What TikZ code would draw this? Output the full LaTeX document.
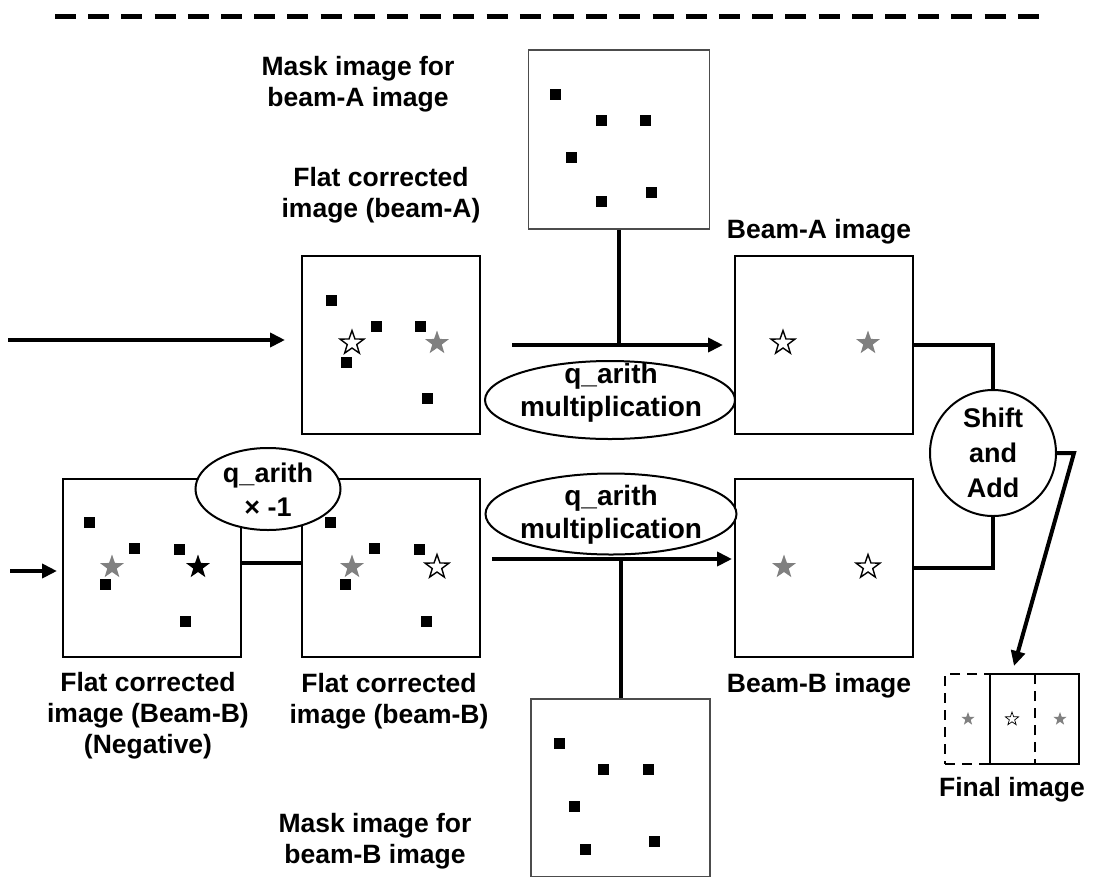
\documentclass[tikz,border=0pt]{standalone}
\usepackage{fontspec}
\setmainfont{Liberation Sans}
\usetikzlibrary{shapes.geometric,arrows.meta,calc}
\tikzset{
 lbl/.style={font=\bfseries\fontsize{26.5}{31}\selectfont, align=center, inner sep=0pt},
 imgbox/.style={draw=black, line width=2pt, minimum width=178pt, minimum height=178pt, inner sep=0pt},
 maskbox/.style={draw=black!70, line width=1.6pt, minimum width=181pt, minimum height=179pt, inner sep=0pt},
 sqr/.style={fill=black, minimum size=11pt, inner sep=0pt},
 bigstar/.style={star, star points=5, star point ratio=2.5, minimum size=25pt, inner sep=0pt},
 hstar/.style={bigstar, draw=black, fill=white, line width=1.4pt},
 gstar/.style={bigstar, fill=black!50},
 kstar/.style={bigstar, fill=black},
 smallstar/.style={star, star points=5, star point ratio=2.5, minimum size=14pt, inner sep=0pt},
 shstar/.style={smallstar, draw=black, fill=white, line width=0.7pt},
 sgstar/.style={smallstar, fill=black!50},
 conn/.style={line width=4pt},
 arr/.style={conn, -{Triangle[length=15pt,width=14pt]}},
 oval/.style={ellipse, draw=black, fill=white, line width=2pt, inner sep=0pt},
 ovaltxt/.style={align=center, inner sep=0pt, font=\bfseries\fontsize{28}{33}\selectfont},
 rnd/.style={circle, draw=black, fill=white, line width=2pt, inner sep=0pt, align=center,
   minimum size=126pt, font=\bfseries\fontsize{27}{35}\selectfont},
 finalbox/.style={line width=2.5pt, minimum width=89pt, minimum height=90pt, inner sep=0pt}
}
\newcommand\sqnode[3]{\node[sqr] (#1) at (#2,#3) {};}
\begin{document}
\begin{tikzpicture}[x=1pt,y=-1pt]
\useasboundingbox (0,0) rectangle (1095,876);
\clip (0,0) rectangle (1095,876);

% top dashed separator
\draw[line width=5pt, dash pattern=on 21pt off 12.2pt] (55,16) -- (1040,16);

% boxes
\node[maskbox] (maskA) at (619,139.5) {};
\node[imgbox] (flatA) at (391,345) {};
\node[imgbox] (beamA) at (824,345) {};
\node[imgbox] (neg) at (151.5,568) {};
\node[imgbox] (flatB) at (391,568) {};
\node[imgbox] (beamB) at (824,568) {};
\node[maskbox, minimum width=179pt, minimum height=178pt] (maskB) at (620.5,788) {};

% mask A squares
\sqnode{ma1}{555}{94}\sqnode{ma2}{601}{120}\sqnode{ma3}{645}{120}
\sqnode{ma4}{571}{157}\sqnode{ma5}{601}{201}\sqnode{ma6}{651}{192}
% flat A
\sqnode{fa1}{331}{300}\sqnode{fa2}{376}{326}\sqnode{fa3}{420}{326}
\sqnode{fa4}{346}{362}\sqnode{fa5}{427}{398}
\node[hstar] (faS1) at (352,343) {};
\node[gstar] (faS2) at (437,343) {};
% beam A
\node[hstar] (baS1) at (783,343) {};
\node[gstar] (baS2) at (868,343) {};
% negative
\sqnode{ng1}{89}{522}\sqnode{ng2}{134}{548}\sqnode{ng3}{179}{549}
\sqnode{ng4}{105}{584}\sqnode{ng5}{185}{621}
\node[gstar] (ngS1) at (112,567) {};
\node[kstar] (ngS2) at (198,567) {};
% flat B
\sqnode{fb1}{330}{522}\sqnode{fb2}{374}{548}\sqnode{fb3}{419}{549}
\sqnode{fb4}{345}{584}\sqnode{fb5}{426}{621}
\node[gstar] (fbS1) at (352,567) {};
\node[hstar] (fbS2) at (437,567) {};
% beam B
\node[gstar] (bbS1) at (784,567) {};
\node[hstar] (bbS2) at (868,567) {};
% mask B squares
\sqnode{mb1}{559}{743}\sqnode{mb2}{603}{769}\sqnode{mb3}{648}{769}
\sqnode{mb4}{574}{806}\sqnode{mb5}{654}{841}\sqnode{mb6}{585}{849}

% connectors
\coordinate (inA) at (8,340);
\coordinate (inAend) at (285,340);
\draw[arr] (inA) -- (inAend);
\draw[arr, shorten <=31pt, shorten >=11pt] (flatA.east) -- (beamA.west);
\draw[conn] (maskA.south) -- (maskA.south |- flatA.east);

\coordinate (inB) at (10,571);
\coordinate (inBend) at (57,571);
\draw[arr] (inB) -- (inBend);
\draw[conn, line width=3.5pt] ([yshift=5pt]neg.east) -- ([yshift=5pt]flatB.west);
\draw[arr, shorten <=11pt, shorten >=2pt] ([yshift=9pt]flatB.east) -- ([yshift=9pt]beamB.west);
\draw[conn] (maskB.north) -- (maskB.north |- 0,559);

% ellipses
\node[oval, minimum width=250pt, minimum height=78pt] (mulA) at (610,400) {};
\node[ovaltxt] (mulAt) at (611,393) {q\_arith\\multiplication};
\node[oval, minimum width=251pt, minimum height=81pt] (mulB) at (611,514) {};
\node[ovaltxt] (mulBt) at (611,515) {q\_arith\\multiplication};
\node[oval, minimum width=145pt, minimum height=82pt] (neg1) at (268,489) {};
\node[ovaltxt, font=\bfseries\fontsize{27}{34}\selectfont] (neg1t) at (268,490) {q\_arith\\\texttimes\ -1};

% shift and add
\node[rnd] (sa) at (993,453) {Shift\\and\\Add};
\draw[conn] (beamA.east) -| (sa.north);
\draw[conn] (beamB.east) -| (sa.south);
\coordinate (bend) at (1074,453);
\coordinate (fin) at (1014,666);
\draw[arr] (sa.east) -- (bend) -- (fin);

% final image
\node[finalbox, draw, dashed, dash pattern=on 10pt off 7pt, minimum width=90pt] (fdash) at (990,719) {};
\node[finalbox, draw] (fsolid) at (1034.5,719) {};
\node[sgstar] (fS1) at (968,719) {};
\node[shstar] (fS2) at (1012,719) {};
\node[sgstar] (fS3) at (1060,719) {};

% labels
\node[lbl] (lmaskA) at (358,84) {Mask image for\\beam-A image};
\node[lbl] (lflatA) at (381,195) {Flat corrected\\image (beam-A)};
\node[lbl] (lbeamA) at (819,232) {Beam-A image};
\node[lbl] (lneg) at (148,716) {Flat corrected\\image (Beam-B)\\(Negative)};
\node[lbl] (lflatB) at (389,701) {Flat corrected\\image (beam-B)};
\node[lbl] (lbeamB) at (819,686) {Beam-B image};
\node[lbl] (lmaskB) at (375,841) {Mask image for\\beam-B image};
\node[lbl] (lfinal) at (1012,790) {Final image};
\end{tikzpicture}
\end{document}
